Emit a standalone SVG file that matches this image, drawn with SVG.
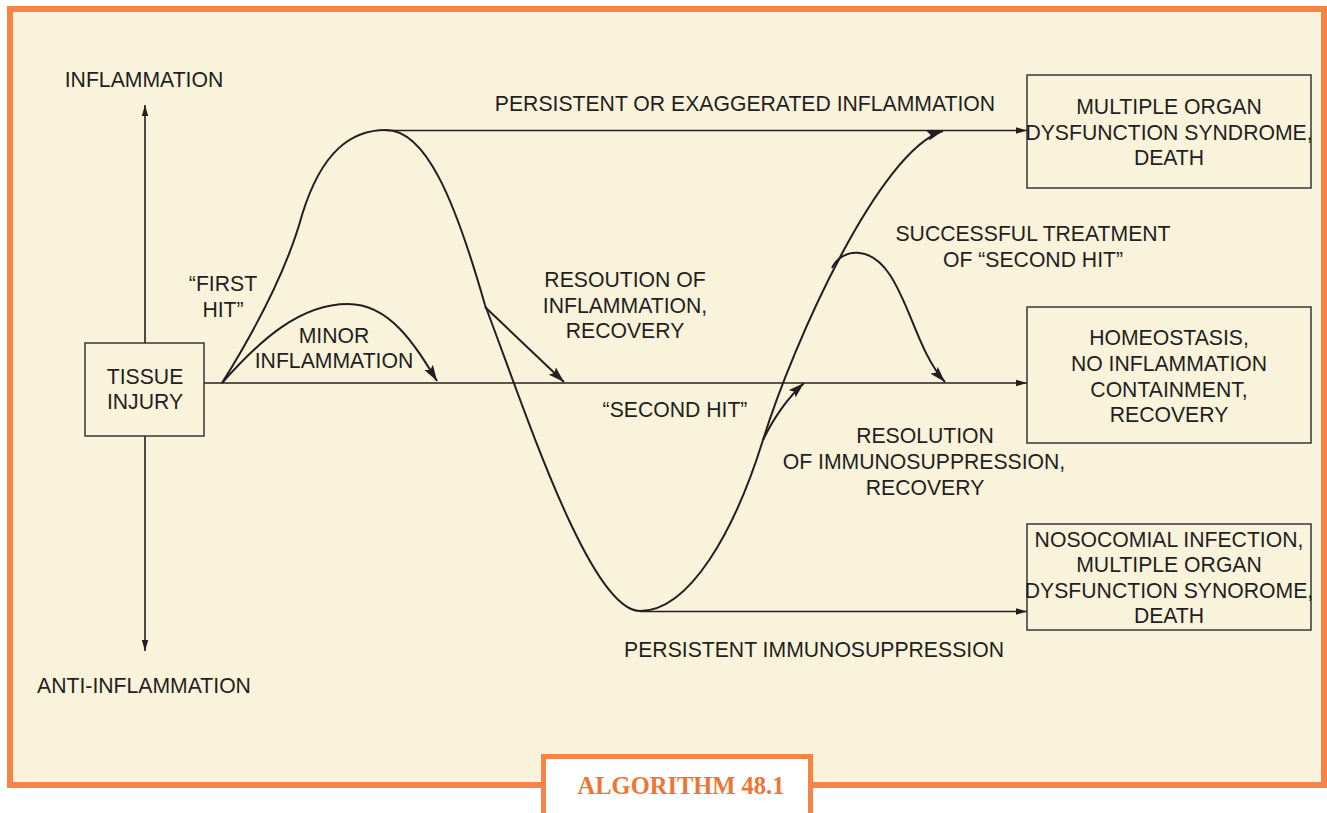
<svg xmlns="http://www.w3.org/2000/svg" width="1327" height="813" viewBox="0 0 1327 813">
  <style>
    .lbl { font-family: "Liberation Sans", Arial, sans-serif; font-size: 21.2px; fill: #231F20; text-anchor: middle; }
    .box { fill: none; stroke: #3A3533; stroke-width: 1.5; }
    .ln { fill: none; stroke: #231F20; stroke-width: 1.6; }
    .crv { fill: none; stroke: #231F20; stroke-width: 2; }
  </style>
  <defs>
    <marker id="big" markerUnits="userSpaceOnUse" markerWidth="17" markerHeight="11" refX="16" refY="5.5" orient="auto">
      <path d="M0,0.5 L16,5.5 L0,10.5 L3,5.5 z" fill="#231F20"/>
    </marker>
    <marker id="small" markerUnits="userSpaceOnUse" markerWidth="12" markerHeight="8" refX="11" refY="4" orient="auto">
      <path d="M0,0.8 L11,4 L0,7.2 z" fill="#231F20"/>
    </marker>
  </defs>

  <!-- panel background and frame -->
  <rect x="0" y="0" width="1327" height="813" fill="#FFFFFF"/>
  <rect x="10" y="9" width="1314" height="776" fill="#FAF3DC" stroke="#F58446" stroke-width="6"/>

  <!-- caption tab -->
  <g id="caption">
    <rect x="543.5" y="756.5" width="267" height="70" fill="#FFFFFF" stroke="#F58446" stroke-width="5"/>
    <text x="681" y="794" font-family="'Liberation Serif', 'Times New Roman', serif" font-size="24.5" font-weight="bold" fill="#F07535" text-anchor="middle">ALGORITHM 48.1</text>
  </g>

  <!-- axis labels -->
  <g id="axis">
    <text class="lbl" x="144" y="87">INFLAMMATION</text>
    <text class="lbl" x="144" y="693">ANTI-INFLAMMATION</text>
  </g>

  <!-- connectors -->
  <g id="connectors">
    <!-- vertical axis -->
    <line class="ln" x1="145" y1="343" x2="145" y2="105" marker-end="url(#small)"/>
    <line class="ln" x1="145" y1="436" x2="145" y2="651" marker-end="url(#small)"/>
    <!-- baseline to homeostasis -->
    <line class="ln" x1="204" y1="383" x2="1027" y2="383" marker-end="url(#small)"/>
    <!-- persistent inflammation -->
    <line class="ln" x1="385" y1="130.5" x2="1027" y2="130.5" marker-end="url(#small)"/>
    <!-- persistent immunosuppression -->
    <line class="ln" x1="640" y1="611.5" x2="1027" y2="611.5" marker-end="url(#small)"/>
    <!-- main trajectory: first hit, collapse, second hit -->
    <path class="crv" d="M222,383 C255,330 287,270 302,215 C322,150 352,130 386,130 C426,130 455,200 485,305 C525,410 590,611 640,611 C690,611 735,530 763,440 C793.8,341 880,150 943,131" marker-end="url(#big)"/>
    <!-- minor inflammation -->
    <path class="crv" d="M222,383 C260,340 300,304 348,304 C390,304 415,345 437,381" marker-end="url(#big)"/>
    <!-- resolution of inflammation -->
    <path class="crv" d="M485,307 L564,382" marker-end="url(#big)"/>
    <!-- second hit branch -->
    <path class="crv" d="M763,440 Q780,405 804,383" marker-end="url(#big)"/>
    <!-- successful treatment -->
    <path class="crv" d="M832,268 C842,248 870,245 890,275 C910,305 920,355 945,382" marker-end="url(#big)"/>
  </g>

  <!-- curve labels -->
  <g id="labels">
    <text class="lbl" x="745" y="111">PERSISTENT OR EXAGGERATED INFLAMMATION</text>
    <text class="lbl" x="223" y="291">“FIRST</text>
    <text class="lbl" x="223" y="317">HIT”</text>
    <text class="lbl" x="334" y="343">MINOR</text>
    <text class="lbl" x="334" y="368">INFLAMMATION</text>
    <text class="lbl" x="625" y="287">RESOUTION OF</text>
    <text class="lbl" x="625" y="313">INFLAMMATION,</text>
    <text class="lbl" x="625" y="338">RECOVERY</text>
    <text class="lbl" x="675" y="417">“SECOND HIT”</text>
    <text class="lbl" x="1033" y="241">SUCCESSFUL TREATMENT</text>
    <text class="lbl" x="1033" y="267">OF “SECOND HIT”</text>
    <text class="lbl" x="925" y="443">RESOLUTION</text>
    <text class="lbl" x="924" y="469">OF IMMUNOSUPPRESSION,</text>
    <text class="lbl" x="925" y="495">RECOVERY</text>
    <text class="lbl" x="814" y="657">PERSISTENT IMMUNOSUPPRESSION</text>
  </g>

  <!-- nodes -->
  <g id="tissue-injury">
    <rect class="box" x="85" y="343" width="119" height="93"/>
    <text class="lbl" x="145" y="384">TISSUE</text>
    <text class="lbl" x="145" y="409">INJURY</text>
  </g>

  <g id="mods-death">
    <rect class="box" x="1027" y="75" width="284" height="113"/>
    <text class="lbl" x="1169" y="114">MULTIPLE ORGAN</text>
    <text class="lbl" x="1169" y="140">DYSFUNCTION SYNDROME,</text>
    <text class="lbl" x="1169" y="165">DEATH</text>
  </g>

  <g id="homeostasis">
    <rect class="box" x="1027" y="307" width="284" height="136"/>
    <text class="lbl" x="1169" y="345">HOMEOSTASIS,</text>
    <text class="lbl" x="1169" y="371">NO INFLAMMATION</text>
    <text class="lbl" x="1169" y="397">CONTAINMENT,</text>
    <text class="lbl" x="1169" y="422">RECOVERY</text>
  </g>

  <g id="nosocomial">
    <rect class="box" x="1027" y="524" width="284" height="106"/>
    <text class="lbl" x="1169" y="547">NOSOCOMIAL INFECTION,</text>
    <text class="lbl" x="1169" y="572">MULTIPLE ORGAN</text>
    <text class="lbl" x="1169" y="598">DYSFUNCTION SYNOROME,</text>
    <text class="lbl" x="1169" y="623">DEATH</text>
  </g>
</svg>
